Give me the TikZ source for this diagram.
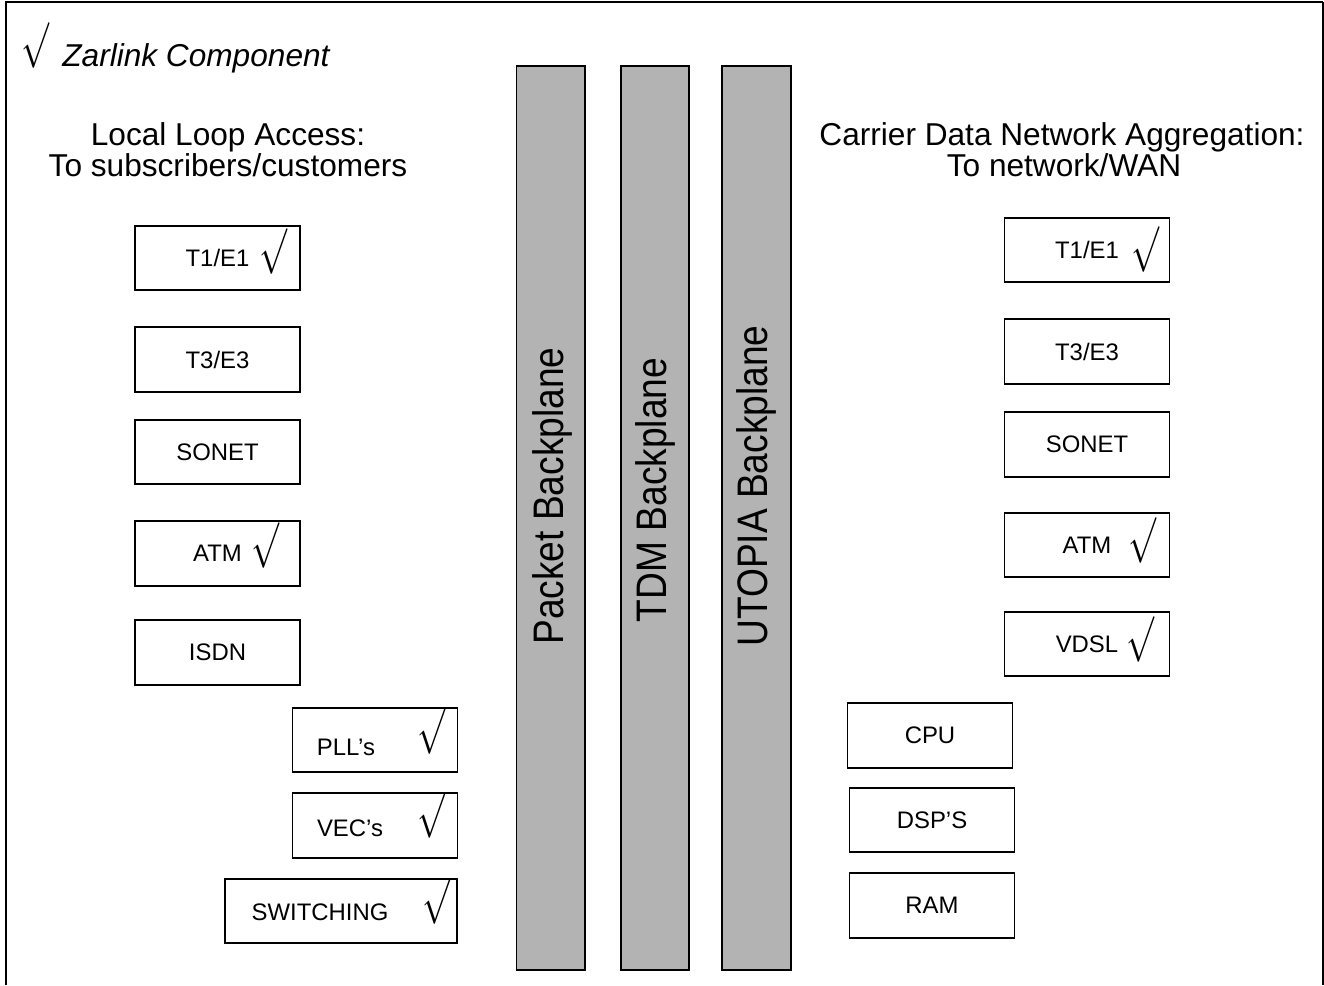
\documentclass[tikz,border=0pt]{standalone}
\usepackage{fontspec}
\setmainfont{Liberation Sans}
\newfontfamily\barfont{Liberation Sans}[FakeStretch=0.87]
\usepackage{graphicx}
\usepackage{tikz}
\usetikzlibrary{calc}
\definecolor{planegray}{RGB}{179,179,179}
\newcommand{\zlcheck}{\scalebox{1.9}[2.6]{$\surd$}}

\begin{document}
\begin{tikzpicture}[x=0.02cm, y=-0.02cm,
  unit/.style={draw, line width=1.1pt, minimum width=3.30cm, minimum height=1.29cm, inner sep=0pt, font=\fontsize{13.6}{15}\selectfont},
  plane/.style={draw, line width=1.1pt, fill=planegray, minimum width=1.37cm, minimum height=18.08cm, inner sep=0pt},
  planetext/.style={rotate=90, inner sep=0pt, font=\barfont\fontsize{24.3}{26}\selectfont},
  boxtext/.style={inner sep=0pt, font=\fontsize{13.6}{15}\selectfont},
  headtext/.style={inner sep=0pt, anchor=base, font=\fontsize{18}{20}\selectfont},
  check/.style={inner sep=0pt}]
\useasboundingbox (0, 0) rectangle (1324, 985);
\draw[line width=1.1pt] (6, 985) -- (6, 2) -- (1323, 2);
\draw[line width=0.6pt] (1323, 2) -- (1323, 985);
% Key
\node[check] (keychk) at (35, 46) {\zlcheck};
\node[headtext, anchor=base west, font=\itshape\fontsize{18}{20}\selectfont] (keytext) at (62, 66) {Zarlink Component};
%
% Local Loop Access:
\node[headtext] (loopa) at (228, 145) {Local Loop Access:};
\node[headtext] (loopb) at (228, 176) {To subscribers/customers};
\node[unit] (lt1) at (217.5, 258) {T1/E1};
\node[unit] (lt3) at (217.5, 359.5) {T3/E3};
\node[unit] (lsonet) at (217.5, 452) {SONET};
\node[unit] (latm) at (217.5, 553.5) {ATM};
\node[unit] (lisdn) at (217.5, 652.5) {ISDN};
\node[unit] (pll) at (375, 740) {};
\node[unit] (vec) at (375, 825.5) {};
\node[unit, minimum width=4.64cm] (switch) at (341, 911) {};
\node[boxtext] (pllt) at ($(pll.center)+(-29, 7)$) {PLL's};
\node[boxtext] (vect) at ($(vec.center)+(-25, 3)$) {VEC's};
\node[boxtext] (switcht) at ($(switch.center)+(-21, 1)$) {SWITCHING};
\node[check] (lt1c) at ($(lt1.east)+(-28, -7)$) {\zlcheck};
\node[check] (latmc) at ($(latm.east)+(-36, -8)$) {\zlcheck};
\node[check] (pllc) at ($(pll.east)+(-27, -9)$) {\zlcheck};
\node[check] (vecc) at ($(vec.east)+(-27, -10)$) {\zlcheck};
\node[check] (switchc) at ($(switch.east)+(-22, -10)$) {\zlcheck};
%
% Backplanes
\node[plane] (packet) at (550.75, 518) {};
\node[plane] (tdm) at (655, 518) {};
\node[plane] (utopia) at (756.5, 518) {};
\node[planetext] (packett) at (552, 496) {Packet Backplane};
\node[planetext] (tdmt) at (655, 490) {TDM Backplane};
\node[planetext] (utopiat) at (756, 486) {UTOPIA Backplane};
%
% Carrier Data Network Aggregation:
\node[headtext] (aggra) at (1062, 145) {Carrier Data Network Aggregation:};
\node[headtext] (aggrb) at (1064, 176) {To network/WAN};
\node[unit] (rt1) at (1087, 250) {T1/E1};
\node[unit] (rt3) at (1087, 351.5) {T3/E3};
\node[unit] (rsonet) at (1087, 444.5) {SONET};
\node[unit] (ratm) at (1087, 545) {ATM};
\node[unit] (rvdsl) at (1087, 644) {VDSL};
\node[unit] (cpu) at (930, 735.5) {CPU};
\node[unit] (dsp) at (932, 820) {DSP'S};
\node[unit] (ram) at (932, 905.5) {RAM};
\node[check] (rt1c) at ($(rt1.east)+(-25, -1)$) {\zlcheck};
\node[check] (ratmc) at ($(ratm.east)+(-28, -5)$) {\zlcheck};
\node[check] (rvdslc) at ($(rvdsl.east)+(-30, -5)$) {\zlcheck};
\end{tikzpicture}
\end{document}
